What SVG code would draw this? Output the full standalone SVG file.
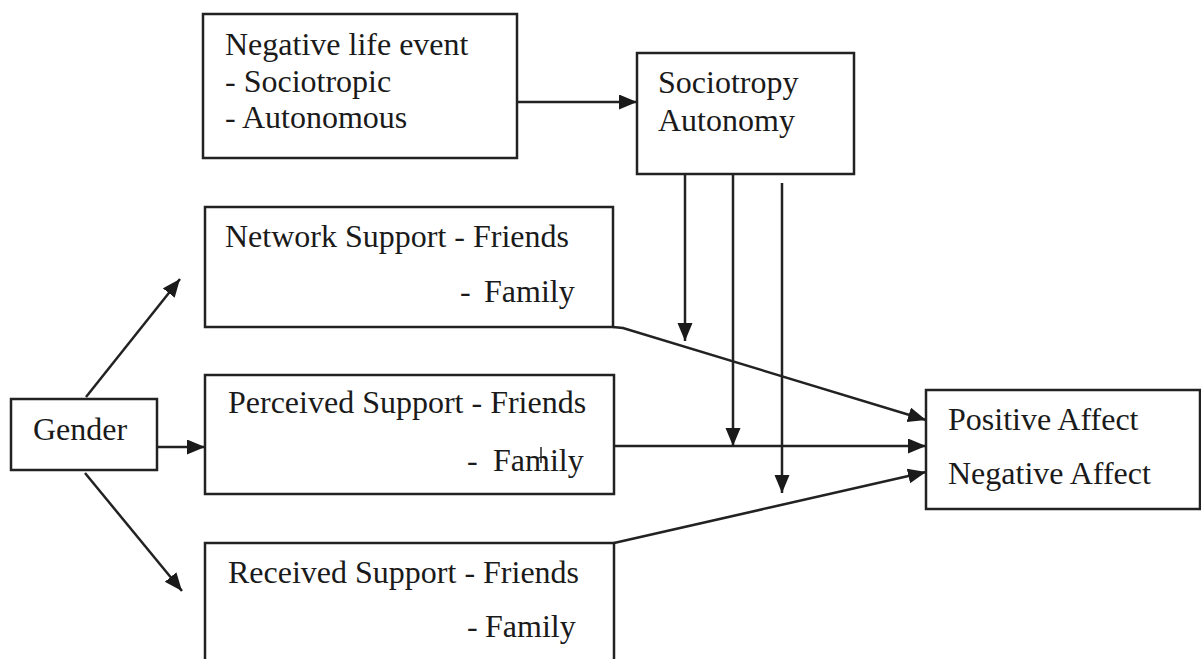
<svg xmlns="http://www.w3.org/2000/svg" width="1201" height="659" viewBox="0 0 1201 659">
<style>
.box{fill:#fff;stroke:#222;stroke-width:2.5}
.t{font-family:"Liberation Serif","Times New Roman",serif;font-size:32px;fill:#1a1a1a}
.c{fill:none;stroke:#222;stroke-width:2.5}
</style>
<defs>
<marker id="ah" markerUnits="userSpaceOnUse" markerWidth="19" markerHeight="16" refX="18" refY="7.5" orient="auto">
<path d="M0,0 L18,7.5 L0,15 z" fill="#1a1a1a"/>
</marker>
</defs>
<rect width="1201" height="659" fill="#fff"/>
<g id="connectors">
<path class="c" d="M517,102 L637,102" marker-end="url(#ah)"/>
<path class="c" d="M86,397 L180,279" marker-end="url(#ah)"/>
<path class="c" d="M157,447 L205,447" marker-end="url(#ah)"/>
<path class="c" d="M85,473 L182,591" marker-end="url(#ah)"/>
<path class="c" d="M613,327 L623,328 L926,420" marker-end="url(#ah)"/>
<path class="c" d="M614,446 L926,446" marker-end="url(#ah)"/>
<path class="c" d="M614,543 L926,472" marker-end="url(#ah)"/>
<path class="c" d="M685,174 L685,341" marker-end="url(#ah)"/>
<path class="c" d="M733,174 L733,446" marker-end="url(#ah)"/>
<path class="c" d="M782,183 L782,493" marker-end="url(#ah)"/>
</g>
<g id="life-event">
<rect class="box" x="203" y="14" width="314" height="144"/>
<text class="t" x="225" y="55">Negative life event</text>
<text class="t" x="225" y="92">- Sociotropic</text>
<text class="t" x="225" y="128">- Autonomous</text>
</g>
<g id="sociotropy">
<rect class="box" x="637" y="53" width="217" height="121"/>
<text class="t" x="658" y="93">Sociotropy</text>
<text class="t" x="658" y="131">Autonomy</text>
</g>
<g id="network">
<rect class="box" x="205" y="207" width="408" height="120"/>
<text class="t" x="225" y="247">Network Support - Friends</text>
<text class="t" y="302"><tspan x="460">-</tspan><tspan x="484">Family</tspan></text>
</g>
<g id="perceived">
<rect class="box" x="205" y="375" width="409" height="119"/>
<text class="t" x="228" y="413">Perceived Support - Friends</text>
<text class="t" y="471"><tspan x="467">-</tspan><tspan x="493">Family</tspan></text>
<line x1="541" y1="447" x2="541" y2="463" stroke="#222" stroke-width="1.5"/>
</g>
<g id="received">
<rect class="box" x="205" y="543" width="409" height="160"/>
<text class="t" x="228" y="583">Received Support - Friends</text>
<text class="t" y="637"><tspan x="467">-</tspan><tspan x="485">Family</tspan></text>
</g>
<g id="gender">
<rect class="box" x="11" y="399" width="146" height="71"/>
<text class="t" x="33" y="440">Gender</text>
</g>
<g id="affect">
<rect class="box" x="926" y="390" width="274" height="119"/>
<text class="t" x="948" y="430">Positive Affect</text>
<text class="t" x="948" y="484">Negative Affect</text>
</g>
</svg>
